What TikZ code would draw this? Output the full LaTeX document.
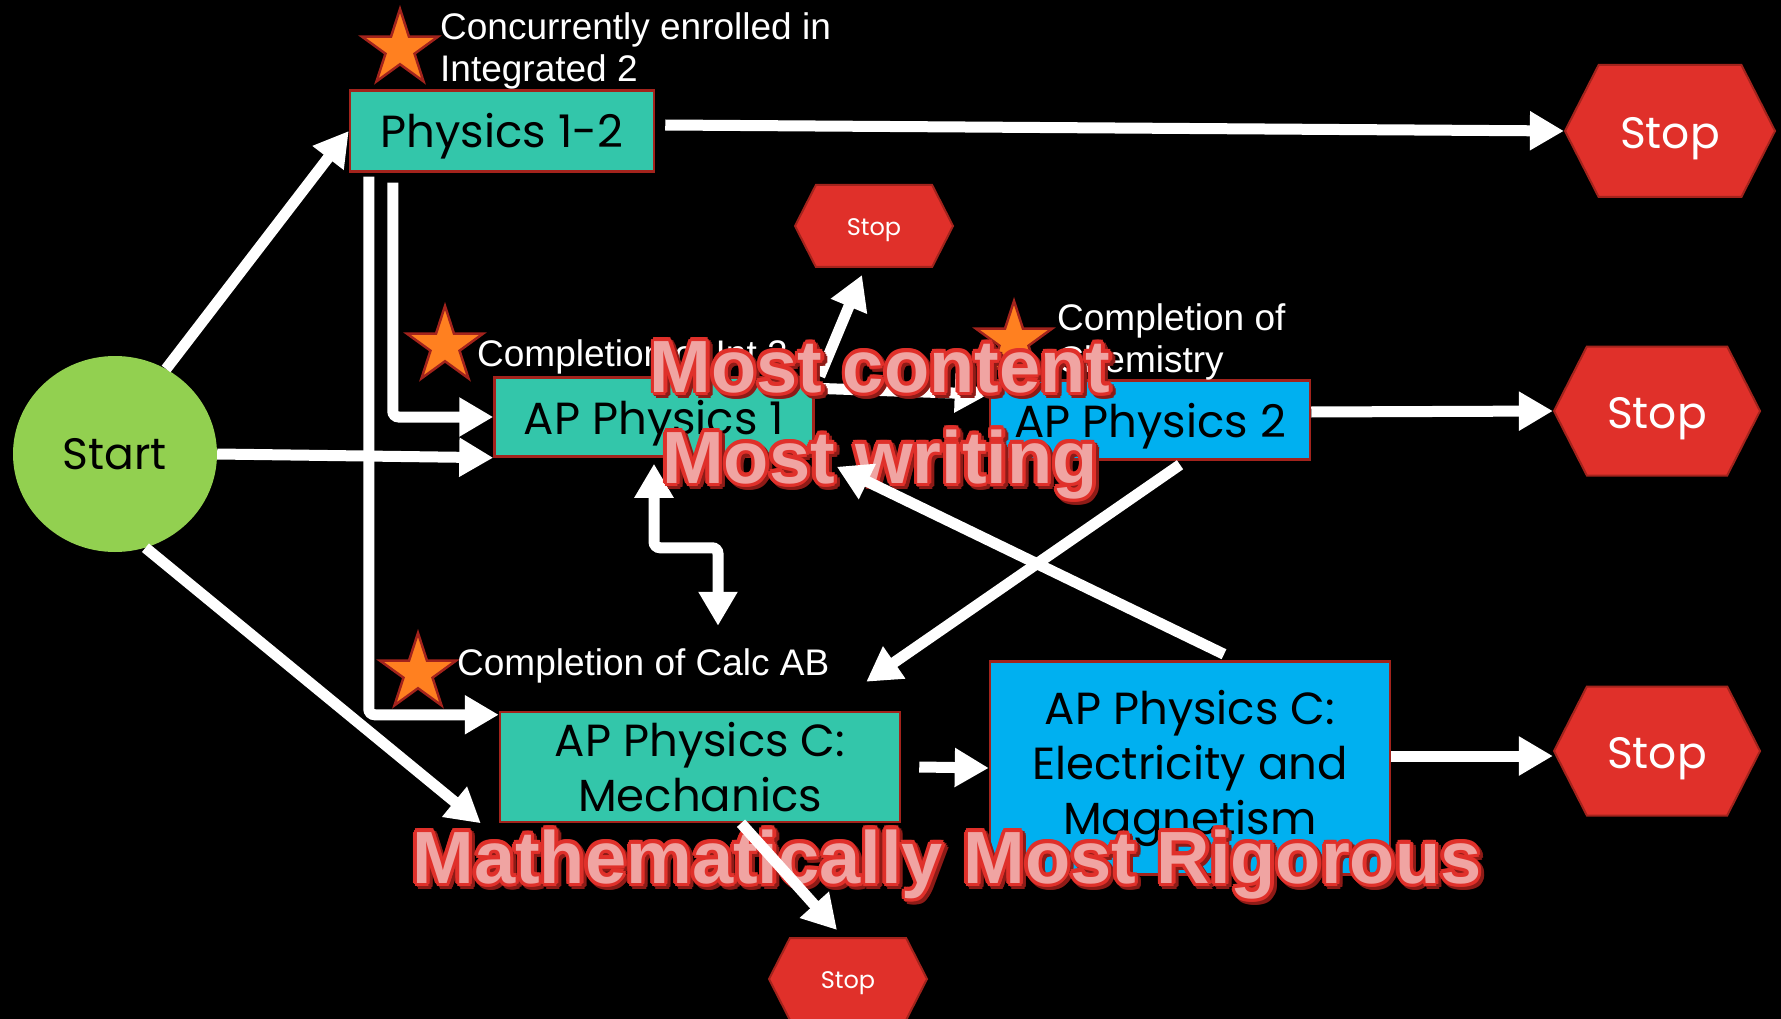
\documentclass[tikz,border=0pt]{standalone}
\usepackage{fontspec}
\setmainfont{Liberation Sans}
\newfontfamily\gothic{Poppins}
\usetikzlibrary{shapes.geometric,shapes.symbols,arrows.meta}

\definecolor{tealbox}{HTML}{33C6AA}
\definecolor{bluebox}{HTML}{00B0F0}
\definecolor{edgered}{HTML}{A3231C}
\definecolor{startgreen}{HTML}{92D050}
\definecolor{stopred}{HTML}{E0302A}
\definecolor{starorange}{HTML}{FF8020}
\definecolor{shadowred}{HTML}{8E1B17}
\definecolor{pinkfill}{HTML}{F0A4A2}

\tikzset{
  course/.style={draw=edgered, line width=2.5pt, inner sep=0pt, align=center,
    font=\gothic\fontsize{45}{55}\selectfont, text=black},
  tealcourse/.style={course, fill=tealbox},
  bluecourse/.style={course, fill=bluebox},
  oneline/.style={text height=36pt, text depth=2pt},
  stopsign/.style={signal, signal to=west and east, signal pointer angle=126,
    fill=stopred, draw=edgered, line width=2pt, text=white, inner sep=0pt,
    font=\gothic\fontsize{44}{44}\selectfont, text height=37pt, text depth=1.6pt},
  smallstop/.style={stopsign, font=\gothic\fontsize{24}{24}\selectfont,
    text height=20.5pt, text depth=1pt},
  startnode/.style={ellipse, fill=startgreen, minimum width=204pt, minimum height=196pt,
    inner sep=0pt, font=\gothic\fontsize{44}{44}\selectfont},
  staricon/.style={star, star points=5, star point ratio=2.618, fill=starorange,
    draw=edgered, line width=2.5pt, minimum size=80pt, inner sep=0pt},
  note/.style={text=white, font=\fontsize{37}{42}\selectfont, align=left,
    anchor=base west, inner sep=0pt},
  arr/.style={draw=white, line width=11pt, -{Triangle[length=34pt,width=37pt]}},
  dblarr/.style={arr, rounded corners=6pt, {Triangle[length=34pt,width=37pt]}-{Triangle[length=34pt,width=37pt]}},
  bigword/.style={font=\bfseries\fontsize{74}{74}\selectfont, inner sep=0pt, anchor=base},
}

% red outlined lettering with shadow
\newcommand{\redword}[3]{%
  \foreach \a in {0,30,...,330}
    \node[bigword, text=shadowred, shift={(\a:3.5pt)}, xshift=3pt, yshift=-3pt] at (#1) {#3};
  \foreach \a in {0,30,...,330}
    \node[bigword, text=stopred, shift={(\a:3.5pt)}] at (#1) {#3};
  \node[bigword, text=pinkfill] (#2) at (#1) {#3};
}

\begin{document}
\begin{tikzpicture}[x=1pt,y=-1pt]
  % background
  \fill[black] (0,0) rectangle (1781,1019);
  \useasboundingbox (0,0) rectangle (1781,1019);

  % start
  \node[startnode] (start) at (115,454) {Start};

  % courses
  \node[tealcourse, oneline, minimum width=304pt, minimum height=81pt] (p12) at (502,131) {Physics 1-2};
  \node[tealcourse, oneline, minimum width=319pt, minimum height=79pt] (ap1) at (654,417) {AP Physics 1};
  \node[bluecourse, oneline, minimum width=320pt, minimum height=79pt] (ap2) at (1150,420) {AP Physics 2};
  \node[tealcourse, minimum width=400pt, minimum height=110pt] (mech) at (700,767) {AP Physics C:\\Mechanics};
  \node[bluecourse, minimum width=400pt, minimum height=213pt] (em) at (1190,768) {AP Physics C:\\Electricity and\\Magnetism};

  % stops
  \node[stopsign, minimum width=210pt, minimum height=132pt] (stopA) at (1670,131) {Stop};
  \node[stopsign, minimum width=206pt, minimum height=129pt] (stopB) at (1657,411) {Stop};
  \node[stopsign, minimum width=206pt, minimum height=129pt] (stopC) at (1657,751) {Stop};
  \node[smallstop, minimum width=158pt, minimum height=82pt] (stopD) at (874,226) {Stop};
  \node[smallstop, minimum width=158pt, minimum height=82pt] (stopE) at (848,979) {Stop};

  % prerequisites
  \node[staricon] (starA) at (400,49) {};
  \node[note] (noteA) at (440,82) {Concurrently enrolled in\\Integrated 2};
  \node[staricon] (starB) at (445,346) {};
  \node[note] (noteB) at (477,366) {Completion of Int 2};
  \node[staricon] (starC) at (1014,341) {};
  \node[note] (noteC) at (1057,372) {Completion of\\Chemistry};
  \node[staricon] (starD) at (418,673) {};
  \node[note] (noteD) at (457,675) {Completion of Calc AB};

  % arrows
  \draw[arr] (start.59) -- (p12.west);
  \draw[arr] (start.east) -- (ap1.south west);
  \draw[arr] (start.-72) -- ([xshift=-18pt]mech.south west);
  \draw[arr, rounded corners=6pt] ([xshift=44pt,yshift=-10pt]p12.south west) |- (ap1.west);
  \draw[arr, rounded corners=6pt] ([xshift=20pt,yshift=-4pt]p12.south west) |- ([yshift=-4pt]mech.north west);
  \draw[arr] ([xshift=10pt,yshift=6pt]p12.east) -- (stopA.west);
  \draw[arr] ([xshift=5pt]ap1.north east) -- ([xshift=-12pt,yshift=-7pt]stopD.south);
  \draw[arr] ([yshift=-12pt]ap1.north east) -- ([yshift=-15pt]ap2.north west);
  \draw[arr] ([yshift=8pt]ap2.east) -- (stopB.west);
  \draw[dblarr] ([yshift=-6pt]ap1.south) -- ++(0,84) -| ([xshift=18pt,yshift=85pt]mech.north);
  \draw[arr] ([xshift=30pt,yshift=-4pt]ap2.south) -- ([xshift=-35pt,yshift=29pt]mech.north east);
  \draw[arr] ([xshift=18pt]mech.east) -- (em.west);
  \draw[arr] ([yshift=12pt]em.east) -- ([yshift=-5pt]stopC.west);

  % overlay words
  \redword{880,392}{content}{Most content}
  \redword{880,483}{writing}{Most writing}
  \redword{947,883}{rigor}{Mathematically Most Rigorous}

  % arrows on top
  \draw[arr] ([xshift=34pt,yshift=6pt]em.north) -- ([xshift=22pt,yshift=-9pt]ap1.south east);
  \draw[arr] ([xshift=41pt]mech.south) -- ([xshift=-11pt,yshift=7pt]stopE.north);
\end{tikzpicture}
\end{document}
